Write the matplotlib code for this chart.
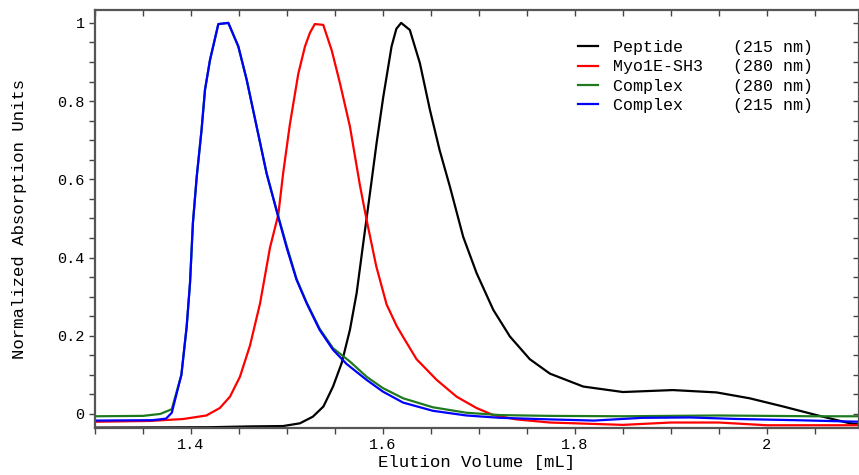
import numpy as np
import matplotlib
matplotlib.use("Agg")
import matplotlib.pyplot as plt
from matplotlib.ticker import MultipleLocator

# Elution volume [mL] / normalized absorption
pep_x = [1.30, 1.42, 1.46, 1.496, 1.5135, 1.527, 1.538, 1.548, 1.557, 1.5656, 1.5726,
         1.5795, 1.5865, 1.5934, 1.6003, 1.609, 1.614, 1.619, 1.628, 1.6385, 1.649,
         1.659, 1.6698, 1.6836, 1.6976, 1.715, 1.7323, 1.753, 1.774, 1.8087, 1.850,
         1.902, 1.9476, 1.982, 2.017, 2.0517, 2.0865, 2.096]
pep_y = [-0.035, -0.034, -0.032, -0.031, -0.024, -0.007, 0.019, 0.070, 0.130, 0.215, 0.309,
         0.437, 0.565, 0.693, 0.810, 0.940, 0.985, 1.000, 0.982, 0.897, 0.777,
         0.675, 0.581, 0.453, 0.360, 0.266, 0.198, 0.140, 0.103, 0.070, 0.056,
         0.061, 0.055, 0.040, 0.019, -0.003, -0.024, -0.027]

myo_x = [1.30, 1.357, 1.392, 1.416, 1.430, 1.4406, 1.451, 1.4615, 1.472, 1.4823, 1.491,
         1.496, 1.503, 1.5118, 1.5188, 1.524, 1.529, 1.5378, 1.5466, 1.5552, 1.5656,
         1.576, 1.583, 1.593, 1.6038, 1.6143, 1.621, 1.635, 1.656, 1.6768, 1.6976,
         1.715, 1.739, 1.774, 1.80, 1.85, 1.90, 1.95, 2.00, 2.096]
myo_y = [-0.020, -0.018, -0.013, -0.004, 0.015, 0.044, 0.095, 0.175, 0.283, 0.425, 0.510,
         0.615, 0.740, 0.870, 0.940, 0.975, 0.997, 0.995, 0.930, 0.846, 0.735,
         0.585, 0.496, 0.378, 0.280, 0.225, 0.197, 0.140, 0.087, 0.044, 0.015,
         -0.003, -0.014, -0.022, -0.024, -0.028, -0.022, -0.022, -0.029, -0.029]

cx280_x = [1.30, 1.35, 1.368, 1.380, 1.390, 1.3955, 1.399, 1.402, 1.406, 1.411, 1.4146,
           1.4198, 1.4285, 1.4389, 1.4493, 1.458, 1.4684, 1.4788, 1.491, 1.4997, 1.510,
           1.5205, 1.534, 1.548, 1.5656, 1.583, 1.600, 1.621, 1.652, 1.687, 1.722,
           1.774, 1.85, 1.95, 2.05, 2.096]
cx280_y = [-0.006, -0.005, 0.000, 0.012, 0.100, 0.223, 0.335, 0.488, 0.607, 0.726, 0.829,
           0.905, 0.997, 1.000, 0.940, 0.855, 0.735, 0.615, 0.505, 0.430, 0.345,
           0.285, 0.218, 0.168, 0.134, 0.095, 0.066, 0.040, 0.017, 0.003, -0.003,
           -0.005, -0.006, -0.004, -0.006, -0.006]

cx215_x = [1.30, 1.36, 1.374, 1.380, 1.390, 1.3955, 1.399, 1.402, 1.406, 1.411, 1.4146,
           1.4198, 1.4285, 1.4389, 1.4493, 1.458, 1.4684, 1.4788, 1.491, 1.4997, 1.510,
           1.5205, 1.534, 1.548, 1.562, 1.583, 1.600, 1.621, 1.652, 1.687, 1.722,
           1.774, 1.82, 1.87, 1.92, 1.97, 2.03, 2.096]
cx215_y = [-0.017, -0.016, -0.012, 0.003, 0.100, 0.223, 0.335, 0.488, 0.607, 0.726, 0.829,
           0.905, 0.997, 1.000, 0.940, 0.855, 0.735, 0.615, 0.503, 0.425, 0.343,
           0.283, 0.215, 0.164, 0.128, 0.087, 0.057, 0.029, 0.008, -0.004, -0.010,
           -0.014, -0.017, -0.010, -0.009, -0.013, -0.016, -0.020]

labels = ["Peptide     (215 nm)", "Myo1E-SH3   (280 nm)",
          "Complex     (280 nm)", "Complex     (215 nm)"]
colors = ["black", "#ff0000", "#1f7a1f", "#0000ff"]

plt.rcParams["font.family"] = ["Liberation Mono", "DejaVu Sans Mono"]

fig = plt.figure(figsize=(8.59, 4.75), dpi=100)
ax = fig.add_axes([95 / 859, 47 / 475, 764 / 859, 418 / 475])

series = [(pep_x, pep_y), (myo_x, myo_y), (cx280_x, cx280_y), (cx215_x, cx215_y)]
for (xs, ys), lab, c in zip(series, labels, colors):
    ax.plot(xs, ys, color=c, lw=1.6, label=lab)

ax.set_xlim(1.3, 2.096)
ax.set_ylim(-0.036, 1.033)

for axis in (ax.xaxis, ax.yaxis):
    axis.set_major_locator(MultipleLocator(0.2))
    axis.set_minor_locator(MultipleLocator(0.05))
ax.xaxis.set_major_formatter(lambda v, p: f"{v:g}")
ax.yaxis.set_major_formatter(lambda v, p: f"{v:g}")
ax.tick_params(which="both", direction="out", length=4, width=1, color="#444444",
               labelsize=11)

# ticks on top/right point the same way (down / left)
top = ax.secondary_xaxis("top")
right = ax.secondary_yaxis("right")
for sec, axis in ((top, top.xaxis), (right, right.yaxis)):
    axis.set_major_locator(MultipleLocator(0.2))
    axis.set_minor_locator(MultipleLocator(0.05))
    sec.tick_params(which="both", direction="in", length=4, width=1, color="#444444",
                    labeltop=False, labelright=False)
    for s in sec.spines.values():
        s.set_visible(False)

for s in ax.spines.values():
    s.set_linewidth(1.6)
    s.set_color("#555555")

ax.set_xlabel("Elution Volume [mL]", fontsize=12.5, labelpad=2)
ax.set_ylabel("Normalized Absorption Units", fontsize=12.5, labelpad=22)

ax.legend(loc="upper left", bbox_to_anchor=(0.632, 0.928), frameon=False,
          fontsize=12, handlelength=1.2, handletextpad=0.9, labelspacing=0.26,
          borderpad=0, borderaxespad=0)

fig.savefig("out.png", dpi=100)
